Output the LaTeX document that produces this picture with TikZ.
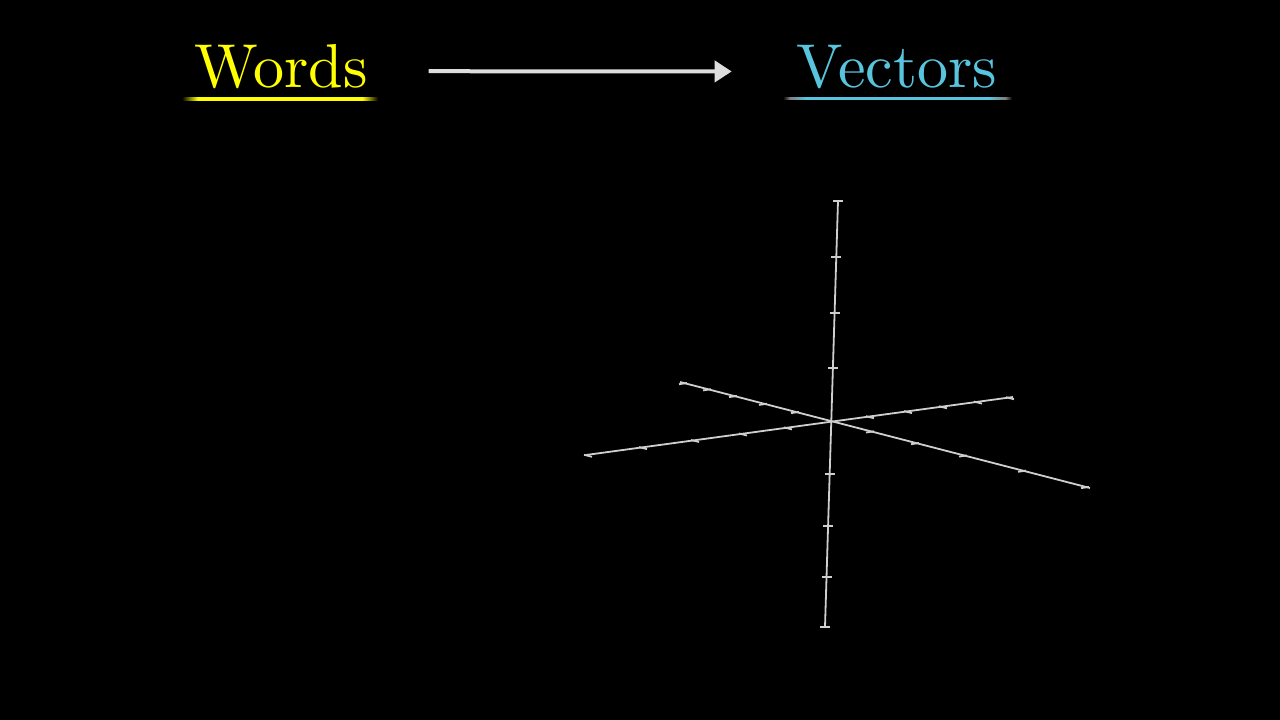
\documentclass[tikz,border=0pt]{standalone}
\usepackage{fontspec}
\usetikzlibrary{arrows.meta,calc}

\newfontfamily\titlefont{lmroman10-regular.otf}

\definecolor{wordyellow}{HTML}{FFFF00}
\definecolor{vecblue}{HTML}{58C4DD}
\definecolor{axisgray}{HTML}{CFCFCF}
\definecolor{arrowgray}{HTML}{DDDDDD}

\pgfdeclarehorizontalshading{yellowline}{100bp}{color(0bp)=(black); color(25bp)=(black); color(29bp)=(wordyellow); color(71bp)=(wordyellow); color(75bp)=(black); color(100bp)=(black)}
\pgfdeclarehorizontalshading{blueline}{100bp}{color(0bp)=(black); color(25bp)=(black); color(26.5bp)=(gray); color(30bp)=(vecblue); color(70bp)=(vecblue); color(73.5bp)=(gray); color(75bp)=(black); color(100bp)=(black)}

\tikzset{
  title/.style={inner sep=0pt, anchor=base, font=\titlefont\fontsize{62}{70}\selectfont},
  axisline/.style={draw=axisgray, line width=1.8pt},
  tickmark/.style={draw=axisgray, line width=1.8pt},
}

\begin{document}
\begin{tikzpicture}[x=1pt, y=-1pt]
    % background and frame
    \fill[black] (0,0) rectangle (1280,720);

    % titles
    \node[title, text=wordyellow] (Words) at (281,87) {Words};
    \node[title, text=vecblue] (Vectors) at (897,87) {Vectors};

    % underlines (faded at the ends)
    \shade[shading=yellowline] (182,97.5) rectangle (378,100.5);
    \shade[shading=blueline] (783,97) rectangle (1012,99);

    % arrow between the titles
    \draw[arrowgray, line width=4pt, shorten <=61pt, shorten >=65pt,
          -{Triangle[length=17pt, width=21pt]}]
        ([yshift=-5pt]Words.east) -- ([yshift=-5pt]Vectors.west);

    % axes
    \coordinate (O) at (831,421);
    \coordinate (Ztop) at (838,201);
    \coordinate (Zbot) at (825,627);
    \coordinate (Xl) at (586,455);
    \coordinate (Xr) at (1013,397);
    \coordinate (Yl) at (680,382);
    \coordinate (Yr) at (1090,488);

    \draw[axisline] (Zbot) -- (Ztop);
    \draw[axisline] (Xl) -- (Xr);
    \draw[axisline] (Yl) -- (Yr);

    % tick marks
    \foreach \tx/\ty in {838/201, 836.3/257, 834.6/313, 832.9/368,
                         829.7/474, 828.1/526, 826.5/577, 825/627}
        \draw[tickmark] (\tx-5,\ty) -- (\tx+5,\ty);
    \foreach \tx/\ty in {588/455, 643/447.3, 695/440.2, 743/433.7, 788/427.6,
                         870/416.4, 908/411.3, 943/406.5, 978/401.8, 1010/397.4}
        \draw[tickmark] (\tx-4,\ty-0.2) -- (\tx+4,\ty+1.8);
    \foreach \tx/\ty in {683/382.8, 707/389, 733/395.7, 763/403.5, 795/411.7,
                         870/431.1, 915/442.8, 963/455.2, 1022/470.4, 1085/486.7}
        \draw[tickmark] (\tx-4,\ty+1.4) -- (\tx+4,\ty+0.2);
\end{tikzpicture}
\end{document}
